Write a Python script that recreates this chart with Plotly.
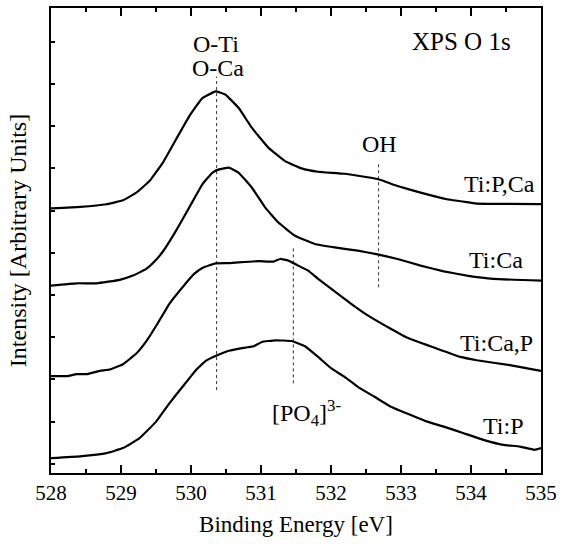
import plotly.graph_objects as go

# ---------------- data (binding energy in eV, intensity in arbitrary units) ----------------
ti_p_ca_x = [528.000, 528.415, 528.794, 529.029, 529.219, 529.407, 529.596, 529.785, 529.974,
             530.162, 530.352, 530.494, 530.682, 530.871, 531.108, 531.344, 531.579, 531.816,
             532.194, 532.666, 532.950, 533.280, 533.658, 533.988, 534.083, 534.508, 535.000]
ti_p_ca_y = [5.052, 5.087, 5.151, 5.245, 5.425, 5.700, 6.132, 6.684, 7.233,
             7.665, 7.823, 7.745, 7.429, 6.958, 6.486, 6.172, 6.000, 5.920,
             5.873, 5.748, 5.583, 5.425, 5.269, 5.189, 5.165, 5.158, 5.151]

ti_ca_x = [528.000, 528.368, 528.652, 528.982, 529.170, 529.360, 529.502, 529.596,
           529.785, 529.974, 530.162, 530.304, 530.399, 530.541, 530.682, 530.871, 531.061,
           531.249, 531.486, 531.769, 532.053, 532.383, 532.666, 532.950, 533.280, 533.611,
           533.942, 534.320, 535.000]
ti_ca_y = [3.224, 3.278, 3.278, 3.358, 3.460, 3.618, 3.836, 4.025,
           4.521, 5.071, 5.623, 5.896, 5.976, 6.019, 5.896, 5.542, 5.071,
           4.717, 4.403, 4.208, 4.127, 4.050, 3.962, 3.854, 3.696, 3.561,
           3.460, 3.382, 3.342]

ti_ca_p_x = [528.000, 528.227, 528.368, 528.510, 528.699, 528.840, 529.029, 529.219, 529.360,
             529.525, 529.691, 529.879, 530.045, 530.162, 530.352, 530.541, 530.682, 530.966,
             531.178, 531.273, 531.391, 531.533, 531.674, 531.816, 532.005, 532.288, 532.525,
             532.808, 533.091, 533.470, 533.847, 534.083, 534.555, 535.000]
ti_ca_p_y = [1.078, 1.078, 1.125, 1.125, 1.203, 1.236, 1.361, 1.613, 1.900,
             2.330, 2.792, 3.184, 3.500, 3.642, 3.750, 3.755, 3.774, 3.802,
             3.790, 3.854, 3.814, 3.696, 3.578, 3.382, 3.146, 2.792, 2.517,
             2.241, 1.986, 1.755, 1.533, 1.455, 1.337, 1.203]

ti_p_x = [528.000, 528.415, 528.794, 529.029, 529.265, 529.502, 529.691, 529.879, 530.069,
          530.211, 530.375, 530.541, 530.777, 530.895, 531.013, 531.202, 531.438, 531.628,
          531.816, 532.005, 532.194, 532.383, 532.620, 532.855, 533.138, 533.375, 533.611,
          533.895, 534.178, 534.462, 534.697, 534.909, 535.000]
ti_p_y = [-0.863, -0.821, -0.745, -0.627, -0.392, 0.000, 0.434, 0.825, 1.219,
          1.439, 1.573, 1.679, 1.755, 1.785, 1.887, 1.927, 1.910, 1.785,
          1.533, 1.259, 1.061, 0.825, 0.590, 0.354, 0.158, 0.000, -0.118,
          -0.274, -0.432, -0.550, -0.590, -0.667, -0.627]

series_names = ["Ti:P,Ca", "Ti:Ca", "Ti:Ca,P", "Ti:P"]
series_x = [ti_p_ca_x, ti_ca_x, ti_ca_p_x, ti_p_x]
series_y = [ti_p_ca_y, ti_ca_y, ti_ca_p_y, ti_p_y]

# reference binding energies (dashed markers) and their vertical extents
marker_names = ["O-Ti / O-Ca", "[PO4]3-", "OH"]
marker_energy = [530.366, 531.462, 532.680]
marker_top = [8.177, 4.127, 6.132]
marker_bottom = [0.748, 0.906, 3.184]

# label positions
series_label_x = [534.414, 534.360, 534.367, 534.466]
series_label_y = [5.630, 3.837, 1.868, -0.101]

x_ticks = [528, 529, 530, 531, 532, 533, 534, 535]

FONT = "Liberation Serif, Times New Roman, serif"

fig = go.Figure()

for i in range(len(marker_energy)):
    fig.add_trace(go.Scatter(
        x=[marker_energy[i], marker_energy[i]], y=[marker_bottom[i], marker_top[i]],
        mode="lines", line=dict(color="#333333", width=1, dash="3px,3px"),
        showlegend=False, hoverinfo="skip", name=marker_names[i]))

for name, xs, ys in zip(series_names, series_x, series_y):
    fig.add_trace(go.Scatter(x=xs, y=ys, mode="lines", name=name,
                             line=dict(color="black", width=2.2, shape="spline", smoothing=0.3),
                             showlegend=False))

for name, lx, ly in zip(series_names, series_label_x, series_label_y):
    fig.add_annotation(x=lx, y=ly, text=name, showarrow=False, xanchor="center", yanchor="middle",
                       font=dict(family=FONT, size=24, color="black"))

ann_font = dict(family=FONT, size=24, color="black")
fig.add_annotation(x=534.594, y=9.002, text="XPS O 1s", showarrow=False, xanchor="right",
                   yanchor="middle", font=dict(family=FONT, size=25, color="black"))
fig.add_annotation(x=530.357, y=8.943, text="O-Ti", showarrow=False, xanchor="center",
                   yanchor="middle", font=ann_font)
fig.add_annotation(x=530.385, y=8.377, text="O-Ca", showarrow=False, xanchor="center",
                   yanchor="middle", font=ann_font)
fig.add_annotation(x=532.690, y=6.573, text="OH", showarrow=False, xanchor="center",
                   yanchor="middle", font=ann_font)
fig.add_annotation(x=531.132, y=0.20, text="[PO<sub>4</sub>]<sup>3-</sup>", showarrow=False,
                   xanchor="left", yanchor="middle", font=ann_font)

fig.update_layout(
    width=563, height=546,
    margin=dict(l=51, r=18, t=6, b=73),
    paper_bgcolor="white", plot_bgcolor="white",
    font=dict(family=FONT, color="black"),
    xaxis=dict(range=[528, 535], tickvals=x_ticks, ticks="inside", ticklen=8, tickwidth=1.5,
               tickcolor="black", showline=True, linecolor="black", linewidth=2,
               mirror="ticks", showgrid=False, zeroline=False,
               tickfont=dict(family=FONT, size=21, color="black"),
               minor=dict(dtick=0.5, tick0=528, ticks="inside", ticklen=4, tickwidth=1.5,
                          tickcolor="black", showgrid=False),
               title=dict(text="Binding Energy [eV]", font=dict(family=FONT, size=23),
                          standoff=12)),
    yaxis=dict(range=[-1.217, 9.80], tick0=0, dtick=1, ticks="inside", ticklen=4, tickwidth=1.5,
               tickcolor="black", showticklabels=False, showline=True, linecolor="black",
               linewidth=2, mirror=True, showgrid=False, zeroline=False,
               title=dict(text="Intensity [Arbitrary Units]", font=dict(family=FONT, size=24),
                          standoff=16)),
)

fig.write_html("out.html")
